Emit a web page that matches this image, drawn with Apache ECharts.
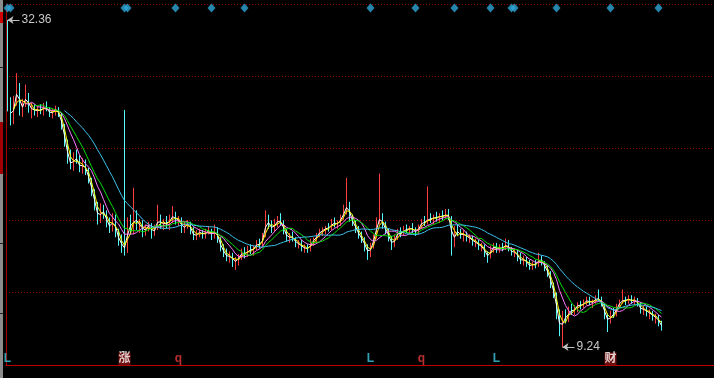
<!DOCTYPE html>
<html><head><meta charset="utf-8">
<script src="https://cdn.jsdelivr.net/npm/echarts@6/dist/echarts.min.js"></script>
<style>html,body{margin:0;padding:0;background:#000;}#c{width:714px;height:378px;}</style>
</head><body><div id="c"></div>
<script>
// daily bars: [open, close, low, high]
const dailyBars = [
[31.6,26.2,25.9,32.36],[26.2,25.3,24.9,26.9],[25.3,26.6,25.0,27.0],[26.6,27.6,26.3,28.6],[27.6,25.9,25.6,27.9],
[25.9,26.5,25.5,26.8],[26.5,27.0,26.2,27.8],[27.0,26.0,25.8,27.2],[26.0,26.2,25.4,26.5],[26.2,25.8,25.6,26.4],
[25.8,26.1,25.5,26.3],[26.1,25.9,25.7,26.4],[25.9,26.3,25.6,26.5],[26.3,26.0,25.9,26.6],[26.0,25.7,25.5,26.2],
[25.7,25.9,25.4,26.1],[25.9,26.1,25.6,26.3],[26.1,25.6,25.5,26.2],[25.6,24.8,24.6,25.8],[24.8,23.6,23.4,25.0],
[23.6,22.5,22.2,23.9],[22.5,22.0,21.8,23.2],[22.0,22.7,21.7,23.0],[22.7,22.4,22.2,23.2],[22.4,21.8,21.6,22.8],
[21.8,22.3,21.5,22.6],[22.3,21.6,21.4,22.5],[21.6,21.0,20.8,21.9],[21.0,20.1,19.9,21.2],[20.1,19.2,18.9,20.4],
[19.2,18.2,17.9,19.5],[18.2,19.0,18.0,19.4],[19.0,18.6,18.3,19.3],[18.6,18.0,17.7,18.9],[18.0,17.6,17.3,18.4],
[17.6,18.4,17.4,18.7],[18.4,17.2,17.0,18.6],[17.2,16.8,16.4,17.6],[16.8,16.3,15.9,17.2],[20.3,16.2,15.7,26.0],
[16.2,18.1,15.9,18.4],[18.1,17.5,17.2,18.6],[17.5,18.6,17.2,20.5],[18.6,17.8,17.5,18.9],[17.8,18.0,17.3,18.3],
[18.0,17.3,17.0,18.2],[17.3,17.7,17.1,17.9],[17.7,17.9,17.4,18.1],[17.9,17.2,16.9,18.0],[17.2,17.7,17.1,17.9],
[17.7,18.4,17.5,19.3],[18.4,17.8,17.6,18.6],[17.8,18.1,17.5,18.3],[18.1,17.9,17.6,18.5],[17.9,18.3,17.5,18.6],
[18.3,18.6,18.0,19.2],[18.6,18.1,17.9,18.8],[18.1,18.3,17.8,18.5],[18.3,17.5,17.3,18.4],[17.5,17.9,17.3,18.1],
[17.9,18.0,17.6,18.2],[18.0,17.4,17.2,18.1],[17.4,17.0,16.8,17.7],[17.0,17.3,16.8,17.5],[17.3,17.4,17.0,17.6],
[17.4,17.1,16.9,17.5],[17.1,17.4,16.9,17.6],[17.4,17.5,17.2,17.8],[17.5,17.0,16.8,17.6],[17.0,17.6,16.9,17.9],
[17.6,16.8,16.6,17.7],[16.8,16.2,16.0,17.0],[16.2,15.9,15.6,16.5],[15.9,15.5,15.3,16.2],[15.5,15.8,15.2,16.0],
[15.8,15.2,14.9,15.9],[15.2,15.4,14.7,15.6],[15.4,15.6,15.0,15.8],[15.6,16.0,15.4,16.2],[16.0,15.7,15.5,16.3],
[15.7,16.2,15.6,16.4],[16.2,16.0,15.8,16.5],[16.0,16.3,15.7,16.4],[16.3,16.6,16.1,16.8],[16.6,16.4,16.2,16.9],
[16.4,17.1,16.3,17.3],[17.1,18.3,17.0,18.9],[18.3,17.8,17.6,18.6],[17.8,17.6,17.3,18.2],[17.6,18.0,17.4,18.3],
[18.0,18.2,17.7,18.5],[18.2,18.0,17.8,18.7],[18.0,17.4,17.2,18.2],[17.4,16.9,16.7,17.6],[16.9,17.1,16.6,17.3],
[17.1,16.9,16.7,17.4],[16.9,16.5,16.3,17.0],[16.5,16.6,16.2,16.8],[16.6,16.2,16.0,16.8],[16.2,16.3,15.9,16.5],
[16.3,16.1,15.9,16.5],[16.1,16.7,16.0,16.9],[16.7,16.8,16.4,17.0],[16.8,17.2,16.6,17.3],[17.2,17.4,17.0,17.6],
[17.4,17.5,17.1,17.7],[17.5,17.7,17.2,17.8],[17.7,17.6,17.4,18.0],[17.6,18.1,17.5,18.3],[18.1,17.9,17.7,18.4],
[17.9,18.0,17.6,18.2],[18.0,18.4,17.8,18.6],[18.4,18.8,18.2,19.3],[18.8,19.4,18.6,21.2],[19.4,18.3,18.1,19.5],
[18.3,18.0,17.8,18.6],[18.0,17.5,17.3,18.2],[17.5,17.1,16.9,17.8],[17.1,16.8,16.6,17.4],[16.8,16.3,16.0,17.0],
[16.3,15.8,15.4,16.5],[15.8,16.4,15.6,16.6],[16.4,17.0,16.2,17.2],[17.0,18.1,16.9,18.4],[18.1,18.4,17.9,21.5],
[18.4,17.8,17.6,18.7],[17.8,17.4,17.2,18.1],[17.4,16.9,16.7,17.6],[16.9,16.4,16.1,17.1],[16.4,17.0,16.3,17.2],
[17.0,17.4,16.8,17.6],[17.4,17.2,17.0,17.7],[17.2,17.6,17.1,17.8],[17.6,17.5,17.3,17.9],[17.5,17.7,17.2,17.8],
[17.7,17.5,17.3,18.0],[17.5,17.3,17.1,17.7],[17.3,17.8,17.2,17.9],[17.8,18.1,17.6,18.3],[18.1,18.0,17.8,18.5],
[18.0,18.4,17.9,20.6],[18.4,18.2,18.0,18.7],[18.2,18.5,17.9,18.6],[18.5,18.3,18.1,18.8],[18.3,18.6,18.0,18.7],
[18.6,18.4,18.2,18.9],[18.4,18.7,18.3,19.0],[18.7,18.4,18.2,19.0],[18.4,16.5,15.7,18.5],[16.5,17.5,16.3,17.8],
[17.5,17.3,17.1,17.9],[17.3,17.1,16.9,17.6],[17.1,17.3,16.7,17.5],[17.3,16.9,16.7,17.4],[16.9,17.0,16.6,17.2],
[17.0,16.6,16.4,17.1],[16.6,16.7,16.3,16.9],[16.7,16.3,16.1,16.8],[16.3,16.4,16.0,16.6],[16.4,15.8,15.6,16.5],
[15.8,15.6,15.2,16.0],[15.6,16.2,15.5,16.4],[16.2,16.4,15.9,16.6],[16.4,16.1,15.9,16.6],[16.1,16.3,15.9,16.5],
[16.3,16.2,16.0,16.6],[16.2,16.6,16.1,16.9],[16.6,16.1,16.0,16.8],[16.1,15.9,15.7,16.3],[15.9,16.0,15.6,16.2],
[16.0,15.5,15.3,16.1],[15.5,15.3,15.1,15.9],[15.3,15.5,15.0,15.7],[15.5,15.1,14.9,15.6],[15.1,14.9,14.7,15.4],
[14.9,15.2,14.7,15.3],[15.2,15.0,14.8,15.4],[15.0,15.6,14.9,15.9],[15.6,15.2,15.0,15.7],[15.2,14.8,14.6,15.3],
[14.8,14.4,14.2,15.0],[14.4,13.6,13.4,14.6],[13.6,12.9,12.7,13.8],[12.9,11.5,11.2,13.1],[11.5,10.3,10.0,11.9],
[10.3,11.4,9.24,11.8],[11.4,11.2,10.9,11.9],[11.2,11.9,11.0,12.1],[11.9,11.7,11.5,12.3],[11.7,12.0,11.5,12.2],
[12.0,12.3,11.7,12.4],[12.3,12.1,11.9,12.5],[12.1,12.4,12.0,12.6],[12.4,12.6,12.2,12.8],[12.6,12.3,12.2,12.8],
[12.3,12.5,12.0,12.6],[12.5,12.7,12.3,12.9],[12.7,12.6,12.5,13.3],[12.6,12.2,12.1,12.8],[12.2,11.4,11.2,12.3],
[11.4,11.0,10.3,11.6],[11.0,11.6,10.9,11.8],[11.6,11.5,11.3,12.0],[11.5,12.2,11.4,12.3],[12.2,12.4,12.0,12.6],
[12.4,12.6,12.3,13.3],[12.6,12.5,12.2,12.8],[12.5,12.7,12.3,12.9],[12.7,12.4,12.3,12.9],[12.4,12.6,12.2,12.8],
[12.6,12.2,12.1,12.7],[12.2,11.8,11.6,12.4],[11.8,12.0,11.5,12.2],[12.0,11.6,11.4,12.1],[11.6,11.7,11.2,11.9],
[11.7,11.3,11.1,11.8],[11.3,11.4,10.9,11.6],[11.4,10.9,10.7,11.5],[10.9,10.6,10.4,11.1]
];
const totalSlots = 236;
const maPeriods = [2, 3, 7, 10, 20];
const maColors = ['#ffffff', '#ffff00', '#ff7cff', '#00e000', '#3cc4ec'];
const signalDays = [0, 1, 39, 40, 56, 68, 79, 121, 136, 149, 161, 168, 169, 183, 201, 217];
const noteDays = [0, 39, 57, 121, 138, 163, 201];
const noteTexts = ['L', '涨', 'q', 'L', 'q', 'L', '财'];

const categories = Array.from({length: totalSlots}, (_, i) => String(i + 1));
function sma(p) {
  return dailyBars.map((d, i) => {
    if (i < p - 1) return '-';
    let s = 0;
    for (let k = i - p + 1; k <= i; k++) s += dailyBars[k][1];
    return +(s / p).toFixed(3);
  });
}
let maxIdx = 0, minIdx = 0;
dailyBars.forEach((b, i) => {
  if (b[3] > dailyBars[maxIdx][3]) maxIdx = i;
  if (b[2] < dailyBars[minIdx][2]) minIdx = i;
});
const maxVal = dailyBars[maxIdx][3], minVal = dailyBars[minIdx][2];

const markerLevel = 33.2, noteLevel = 8.39;
const noteStyle = {
  'L': {color: '#3cc8e0'},
  'q': {color: '#e83c3c'},
  '涨': {color: '#ffffff', backgroundColor: '#8a1010', padding: [1, 0, 0, 0]},
  '财': {color: '#ffffff', backgroundColor: '#8a1010', padding: [1, 0, 0, 0]}
};

const series = [{
  type: 'candlestick',
  data: dailyBars,
  barWidth: 1,
  z: 2,
  itemStyle: {color: '#ff3c3c', color0: '#54fcfc', borderColor: '#ff3c3c', borderColor0: '#54fcfc', borderWidth: 1},
  markLine: {
    silent: true,
    animation: false,
    symbol: ['arrow', 'none'],
    symbolSize: 6,
    lineStyle: {color: '#c0c0c0', width: 1, type: 'solid'},
    label: {show: true, position: 'end', formatter: '{b}', color: '#c8c8c8', fontSize: 12, fontFamily: 'Liberation Sans', distance: 2},
    data: [
      [{name: maxVal.toFixed(2), coord: [maxIdx, maxVal]}, {coord: [maxIdx + 4, maxVal]}],
      [{name: minVal.toFixed(2), coord: [minIdx, minVal]}, {coord: [minIdx + 4, minVal]}]
    ]
  }
}];
maPeriods.forEach((p, k) => {
  series.push({
    type: 'line', data: sma(p), showSymbol: false, symbol: 'none', z: 3 + k,
    lineStyle: {color: maColors[k], width: 1}, silent: true
  });
});
series.push({
  type: 'scatter', symbol: 'diamond', symbolSize: [8, 9], z: 10,
  itemStyle: {color: '#30a6d8'},
  data: signalDays.map(d => [d, markerLevel])
});
series.push({
  type: 'scatter', symbolSize: 0, z: 11,
  label: {show: true, position: 'inside', formatter: '{b}', fontSize: 12, fontWeight: 'bold', fontFamily: 'Liberation Sans, Noto Sans CJK SC'},
  data: noteDays.map((d, i) => ({name: noteTexts[i], value: [d, noteLevel], label: noteStyle[noteTexts[i]]}))
});

const option = {
  backgroundColor: '#000',
  animation: false,
  grid: {left: 6, right: 0, top: 4, height: 361},
  xAxis: {
    type: 'category', data: categories, boundaryGap: true,
    axisLine: {show: true, onZero: false, lineStyle: {color: '#c00000', width: 1}},
    axisTick: {show: false}, axisLabel: {show: false}, splitLine: {show: false}
  },
  yAxis: [{
    type: 'value', min: 7.967, max: 33.491, scale: true,
    axisLine: {show: true, lineStyle: {color: '#a00000'}},
    axisTick: {show: false}, axisLabel: {show: false}, splitLine: {show: false}
  }, {
    type: 'value', inverse: true, min: 0, max: 361, interval: 72, position: 'right',
    axisLine: {show: false}, axisTick: {show: false}, axisLabel: {show: false},
    splitLine: {show: true, lineStyle: {color: ['#8c0000', '#8c0000', '#8c0000', '#8c0000', '#8c0000', 'rgba(0,0,0,0)', 'rgba(0,0,0,0)'], type: [1, 2], width: 1}}
  }],
  series: series,
  graphic: [
    {type: 'rect', shape: {x: 0, y: 0, width: 3, height: 378}, style: {fill: '#8c8c8c'}, silent: true},
    {type: 'rect', shape: {x: 0, y: 12, width: 3, height: 11}, style: {fill: '#d00000'}, silent: true},
    {type: 'rect', shape: {x: 0, y: 122, width: 3, height: 52}, style: {fill: '#a00000'}, silent: true},
    {type: 'rect', shape: {x: 0, y: 67, width: 3, height: 1}, style: {fill: '#222'}, silent: true},
    {type: 'rect', shape: {x: 0, y: 243, width: 3, height: 1}, style: {fill: '#222'}, silent: true},
    {type: 'rect', shape: {x: 0, y: 313, width: 3, height: 1}, style: {fill: '#222'}, silent: true}
  ]
};
const chart = echarts.init(document.getElementById('c'));
chart.setOption(option);
</script>
</body></html>
